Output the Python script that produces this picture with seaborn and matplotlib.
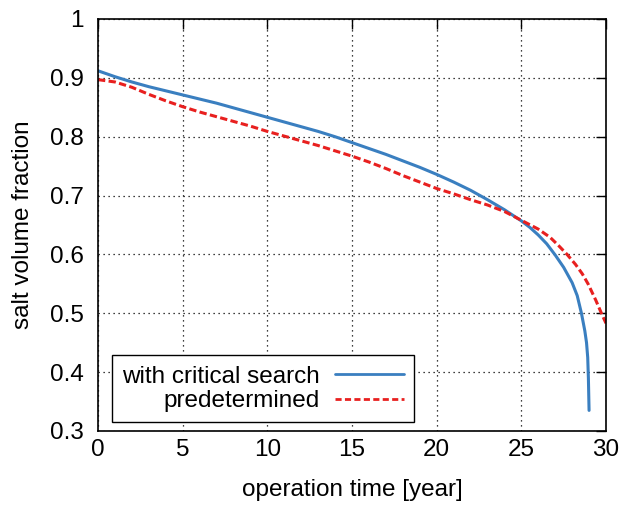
import matplotlib
matplotlib.use("Agg")
import matplotlib.pyplot as plt
import seaborn as sns
import pandas as pd
from matplotlib.lines import Line2D

# Data
crit_time = [0, 1, 2, 3, 4, 5, 6, 7, 8, 9, 10, 11, 12, 13, 14, 15, 16, 17, 18, 19, 20,
             21, 22, 23, 24, 25, 25.5, 26, 26.5, 27, 27.5, 28, 28.3, 28.55, 28.75, 28.85,
             28.92, 28.96, 29.0]
crit_frac = [0.912, 0.902, 0.893, 0.885, 0.878, 0.871, 0.864, 0.857, 0.849, 0.841, 0.833,
             0.825, 0.817, 0.809, 0.800, 0.790, 0.780, 0.770, 0.759, 0.748, 0.736,
             0.723, 0.709, 0.693, 0.676, 0.657, 0.646, 0.633, 0.618, 0.599, 0.578, 0.552,
             0.530, 0.500, 0.470, 0.450, 0.425, 0.390, 0.335]

pre_time = [0, 1, 2, 3, 4, 5, 6, 7, 8, 9, 10, 11, 12, 13, 14, 15, 16, 17, 18, 19, 20,
            21, 22, 23, 24, 25, 26, 26.7, 27.2, 27.7, 28.2, 28.6, 28.94, 29.4, 29.73, 30]
pre_frac = [0.897, 0.893, 0.884, 0.872, 0.861, 0.851, 0.842, 0.834, 0.826, 0.818, 0.809,
            0.801, 0.793, 0.785, 0.776, 0.767, 0.757, 0.746, 0.734, 0.723, 0.712,
            0.703, 0.693, 0.684, 0.673, 0.658, 0.643, 0.629, 0.615, 0.600, 0.583, 0.567,
            0.550, 0.522, 0.500, 0.483]

labels = ["with critical search", "predetermined"]
x_ticks = [0, 5, 10, 15, 20, 25, 30]
y_ticks = [0.3, 0.4, 0.5, 0.6, 0.7, 0.8, 0.9, 1.0]
y_ticklabels = ["0.3", "0.4", "0.5", "0.6", "0.7", "0.8", "0.9", "1"]

df = pd.concat([
    pd.DataFrame({"time": crit_time, "frac": crit_frac, "method": labels[0]}),
    pd.DataFrame({"time": pre_time, "frac": pre_frac, "method": labels[1]}),
], ignore_index=True)

sns.set_style("white")
plt.rcParams["font.family"] = ["Liberation Sans", "DejaVu Sans"]
plt.rcParams["text.color"] = "black"
plt.rcParams["axes.labelcolor"] = "black"
FS = 17.5
plt.rcParams["font.size"] = FS

fig = plt.figure(figsize=(6.25, 5.08), dpi=100)
ax = fig.add_axes([0.1568, 0.1516, 0.8128, 0.811])

colors = {labels[0]: "#3a7fc0", labels[1]: "#e8201f"}
sns.lineplot(data=df, x="time", y="frac", hue="method", style="method",
             palette=colors, dashes={labels[0]: "", labels[1]: (2.4, 1.1)},
             linewidth=2.2, sort=False, estimator=None, ax=ax, legend=False)

ax.set_xlim(0, 30)
ax.set_ylim(0.3, 1.0)
ax.set_xticks(x_ticks)
ax.set_xticklabels([str(t) for t in x_ticks])
ax.set_yticks(y_ticks)
ax.set_yticklabels(y_ticklabels)
ax.grid(True, color="black", linestyle=(0, (1, 3)), linewidth=0.9)
ax.tick_params(direction="in", length=7, width=1, top=True, right=True,
               labelsize=FS, colors="black")
ax.tick_params(axis="y", pad=10)
ax.tick_params(axis="x", pad=6)
for s in ax.spines.values():
    s.set_color("black")
    s.set_linewidth(1.2)

ax.set_xlabel("operation time [year]", fontsize=FS, labelpad=13, color="black")
ax.set_ylabel("salt volume fraction", fontsize=FS, labelpad=12, color="black")

handles = [Line2D([], [], color=colors[labels[0]], lw=2),
           Line2D([], [], color=colors[labels[1]], lw=2, linestyle=(0, (2.2, 1.2)))]
leg = ax.legend(handles, labels, loc="lower left", bbox_to_anchor=(0.027, 0.021),
                markerfirst=False, frameon=True, fancybox=False, framealpha=1,
                edgecolor="black", fontsize=FS, handlelength=2.8, handletextpad=0.65,
                labelspacing=0.1, borderpad=0.42, borderaxespad=0)
leg.get_frame().set_linewidth(1.0)
for t in leg.get_texts():
    t.set_color("black")
for col in leg._legend_handle_box.get_children():
    col.align = "right"

fig.savefig("out.png", dpi=100)
